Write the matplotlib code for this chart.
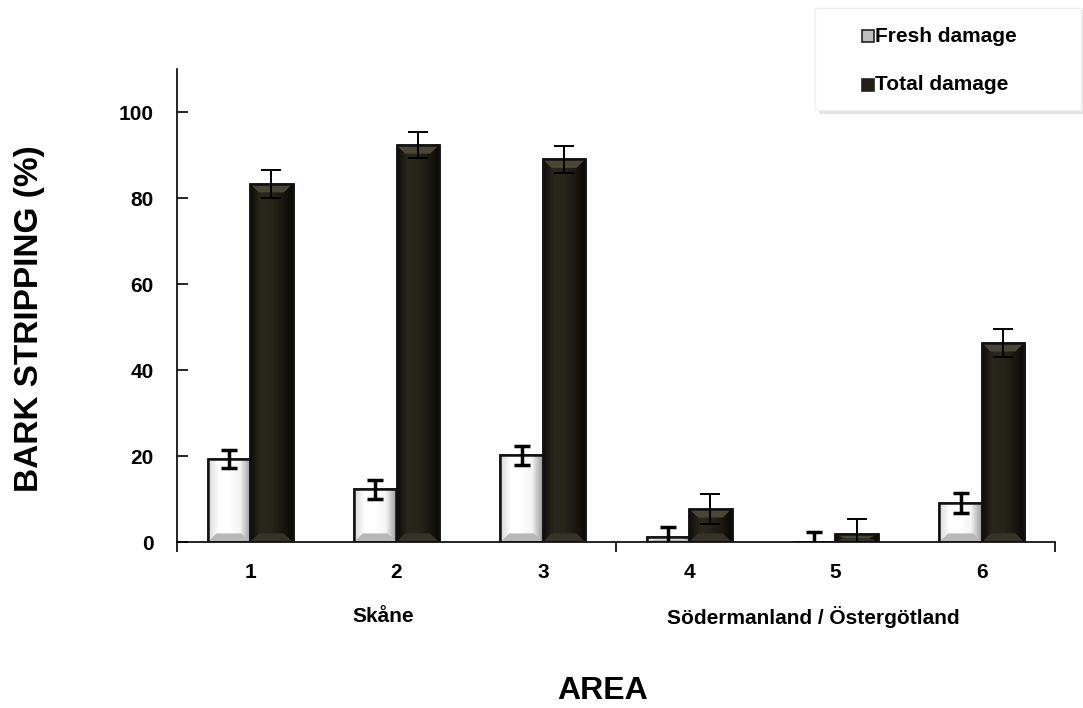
import numpy as np
import matplotlib
matplotlib.use("Agg")
import matplotlib.pyplot as plt
from matplotlib.patches import Polygon, FancyBboxPatch, Rectangle
from matplotlib.colors import LinearSegmentedColormap

areas = ["1", "2", "3", "4", "5", "6"]
fresh = [19.3, 12.3, 20.2, 1.2, 0.0, 9.0]
fresh_err = [2.2, 2.2, 2.2, 2.3, 2.3, 2.3]
total = [83.3, 92.3, 89.0, 7.7, 1.8, 46.3]
total_err = [3.2, 3.0, 3.2, 3.5, 3.5, 3.2]
series_names = ["Fresh damage", "Total damage"]
regions = ["Skåne", "Södermanland / Östergötland"]
region_pos = [1.91, 4.85]

plt.rcParams['font.family'] = ['Liberation Sans', 'DejaVu Sans']

fig = plt.figure(figsize=(10.83, 7.08), dpi=100)
ax = fig.add_axes([177/1083, 1-542/708, (1055-177)/1083, (542-69)/708])

x = np.arange(1, len(areas)+1)
w = 0.29
dark = "#221f15"

fresh_cmap = LinearSegmentedColormap.from_list("f", ["#d8d8d8", "#ffffff", "#ffffff", "#f4f4f4", "#9a9a9a"])
dark_cmap = LinearSegmentedColormap.from_list("d", ["#0e0d08", "#2a271c", "#27241a", "#1a1810", "#0a0906"])

def shade(bars, cmap, top_col, bot_col):
    for b in bars:
        x0, y0 = b.get_x(), b.get_y()
        bw, bh = b.get_width(), b.get_height()
        if bh <= 0:
            continue
        grad = np.linspace(0, 1, 64).reshape(1, -1)
        im = ax.imshow(grad, extent=[x0, x0+bw, y0, y0+bh], aspect='auto',
                       cmap=cmap, zorder=2, interpolation='bicubic')
        im.set_clip_path(b)
        bx = 0.06
        by = min(2.0, bh/2)
        if top_col is not None:
            ax.add_patch(Polygon([[x0, y0+bh], [x0+bw, y0+bh], [x0+bw-bx, y0+bh-by], [x0+bx, y0+bh-by]],
                                 closed=True, facecolor=top_col, edgecolor='none', zorder=2.5))
        ax.add_patch(Polygon([[x0, y0], [x0+bw, y0], [x0+bw-bx, y0+by], [x0+bx, y0+by]],
                             closed=True, facecolor=bot_col, edgecolor='none', zorder=2.5))
        ax.add_patch(Rectangle((x0, y0), bw, bh, facecolor='none', edgecolor='#111111', lw=1.8, zorder=3))

b1 = ax.bar(x - w/2, fresh, w, color='white', edgecolor='#111111', linewidth=1.8, zorder=1)
b2 = ax.bar(x + w/2, total, w, color=dark, edgecolor='#111111', linewidth=1.8, zorder=1)
shade(b1, fresh_cmap, None, "#b8b8b8")
shade(b2, dark_cmap, "#4a4535", "#35322a")

ax.errorbar(x - w/2, fresh, yerr=fresh_err, fmt='none', ecolor='black', elinewidth=2.5,
            capsize=6, capthick=2.5, zorder=4)
ax.errorbar(x + w/2, total, yerr=total_err, fmt='none', ecolor='black', elinewidth=1.4,
            capsize=7, capthick=1.4, zorder=4)

ax.set_xlim(0.5, 6.5)
ax.set_ylim(0, 110)
for s in ['top', 'right']:
    ax.spines[s].set_visible(False)
for s in ['left', 'bottom']:
    ax.spines[s].set_linewidth(1.2)
ax.set_yticks([0, 20, 40, 60, 80, 100])
ax.tick_params(axis='y', direction='in', length=8, width=1.2, labelsize=15, pad=17)
ax.set_xticks([0.5, 3.5, 6.5])
ax.set_xticklabels([])
ax.tick_params(axis='x', direction='out', length=7, width=1.2)
for lab in ax.get_yticklabels():
    lab.set_fontweight('bold')
for xi, a in zip(x, areas):
    ax.text(xi, -4.8, a, ha='center', va='top', fontsize=15, fontweight='bold')
for rp, rn in zip(region_pos, regions):
    ax.text(rp, -15, rn, ha='center', va='top', fontsize=15, fontweight='bold')

fig.text(603/1083, 1-691/708, "AREA", ha='center', va='center', fontsize=23, fontweight='bold')
fig.text(30/1083, 1-319/708, "BARK STRIPPING (%)", ha='center', va='center', rotation=90,
         fontsize=24, fontweight='bold')

# legend box with shadow
sh = FancyBboxPatch((819/1083, 1-114/708), 264/1083, 104/708, boxstyle='square,pad=0',
                    transform=fig.transFigure, facecolor='#e4e4e4', edgecolor='none', zorder=0)
fig.patches.append(sh)
bx = FancyBboxPatch((815/1083, 1-110/708), 266/1083, 102/708, boxstyle='square,pad=0',
                    transform=fig.transFigure, facecolor='white', edgecolor='#f0f0f0', zorder=1)
fig.patches.append(bx)
for yy, name, fc in [(36, series_names[0], '#bdbdbd'), (85, series_names[1], dark)]:
    fig.patches.append(Rectangle((862/1083, 1-(yy+6)/708), 12/1083, 12/708, transform=fig.transFigure,
                                 facecolor=fc, edgecolor='#222222', lw=1.2, zorder=2))
    fig.text(875/1083, 1-yy/708, name, ha='left', va='center', fontsize=15, fontweight='bold', zorder=3)

fig.savefig("out.png", dpi=100)
